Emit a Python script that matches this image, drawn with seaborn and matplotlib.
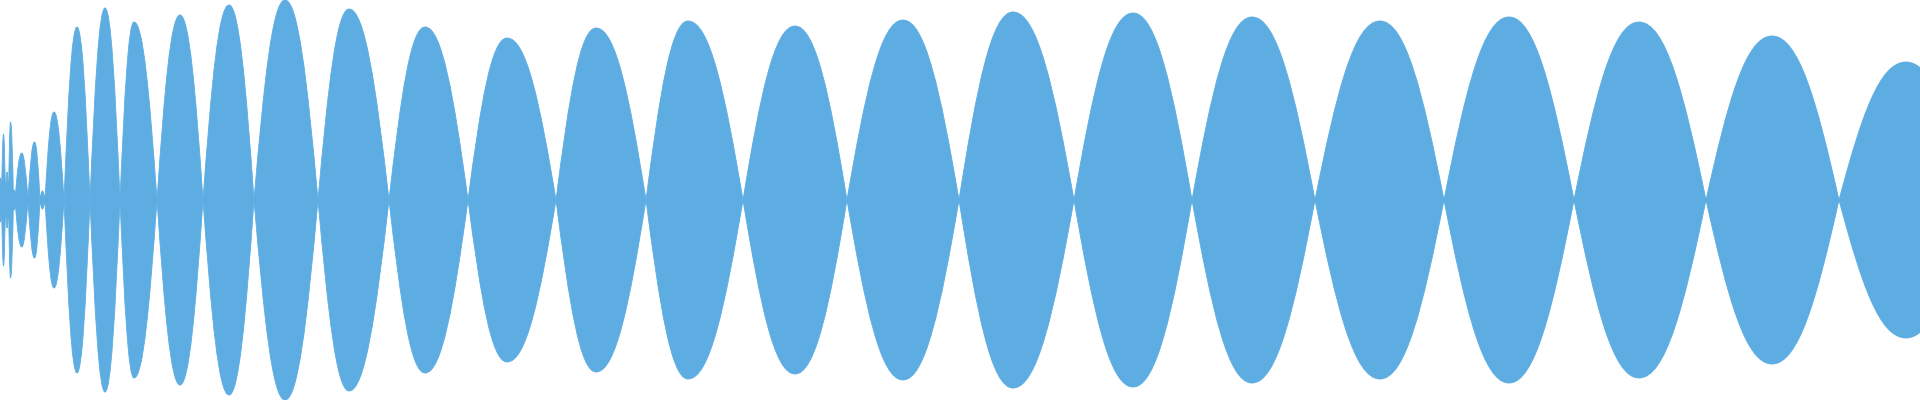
import seaborn as sns
import matplotlib
matplotlib.use("Agg")
import matplotlib.pyplot as plt
from matplotlib.path import Path
from matplotlib.patches import PathPatch

# Waveform, one entry per lobe (x in samples/pixels)
lobe_start = [-1.5, 1.5, 5.5, 8.5, 13.5, 15, 28, 40, 45, 64, 90, 120, 157, 203,
              254, 318, 389, 468, 556, 646, 743, 847, 959, 1074, 1192, 1315,
              1444, 1574, 1706, 1839]
lobe_peak = [0.5, 3.5, 7, 10.5, 14.3, 21.7, 34.5, 42.5, 54, 77, 105, 134, 180, 229,
             285, 349, 425, 507, 596, 688, 795, 903, 1013, 1133, 1252, 1380,
             1509, 1639, 1772, 1906]
lobe_end = [1.5, 5.5, 8.5, 13.5, 15, 28, 40, 45, 64, 90, 120, 157, 203, 254,
            318, 389, 468, 556, 646, 743, 847, 959, 1074, 1192, 1315, 1444,
            1574, 1706, 1839, 1972]
lobe_amp = [0.11, 0.33, 0.14, 0.39, 0.05, 0.235, 0.29, 0.045, 0.44, 0.865, 0.96,
            0.89, 0.925, 0.975, 1.0, 0.955, 0.865, 0.81, 0.86, 0.895, 0.87, 0.9,
            0.94, 0.935, 0.915, 0.895, 0.915, 0.89, 0.82, 0.69]

wave_color = "#5DADE2"

sns.set_theme(style="white")

fig = plt.figure(figsize=(19.2, 4), dpi=100)
ax = fig.add_axes([0, 0, 1, 1])

# bezier handles for one quarter of a lobe (a bit fuller than a sine arch)
hx_in, hy_in, hx_top = 0.33, 0.60, 0.40

verts = []
codes = []
for x0, xp, x1, h in zip(lobe_start, lobe_peak, lobe_end, lobe_amp):
    dl = xp - x0
    dr = x1 - xp
    verts += [
        (x0, 0),
        (x0 + hx_in * dl, hy_in * h), (xp - hx_top * dl, h), (xp, h),
        (xp + hx_top * dr, h), (x1 - hx_in * dr, hy_in * h), (x1, 0),
        (x1 - hx_in * dr, -hy_in * h), (xp + hx_top * dr, -h), (xp, -h),
        (xp - hx_top * dl, -h), (x0 + hx_in * dl, -hy_in * h), (x0, 0),
        (x0, 0),
    ]
    codes += [Path.MOVETO] + [Path.CURVE4] * 12 + [Path.CLOSEPOLY]

ax.add_patch(PathPatch(Path(verts, codes), facecolor=wave_color,
                       edgecolor=wave_color, lw=0.6))
ax.axhline(0, color=wave_color, lw=2.5)

ax.set_xlim(0, 1920)
ax.set_ylim(-1.0, 1.0)
ax.set_axis_off()
sns.despine(left=True, bottom=True)

fig.savefig("out.png", dpi=100, facecolor="white")
